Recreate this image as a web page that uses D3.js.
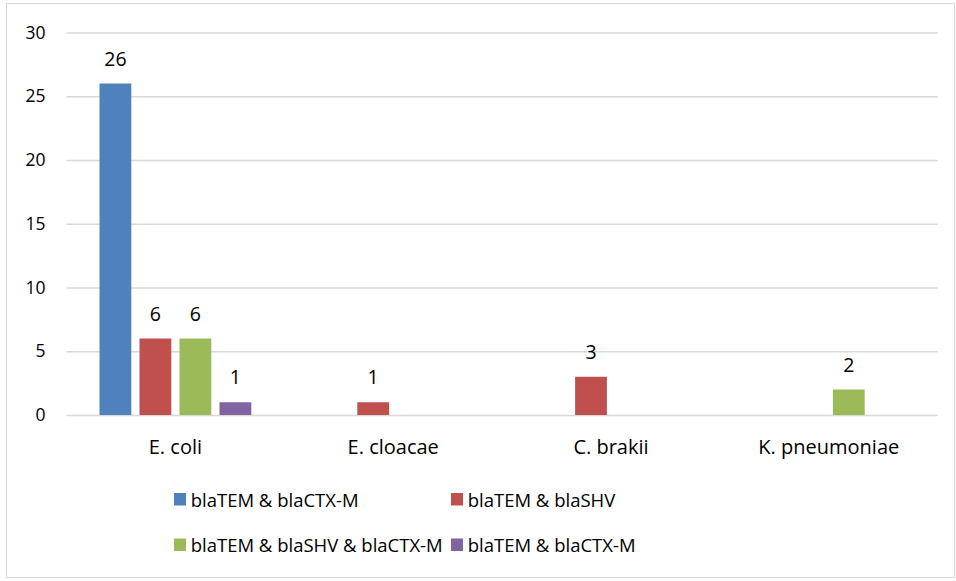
<!DOCTYPE html>
<html>
<head>
<meta charset="utf-8">
<script src="https://cdn.jsdelivr.net/npm/d3@7"></script>
<style>
  html, body { margin: 0; padding: 0; background: #fff; }
  svg { display: block; font-family: "Open Sans", Lato, "Liberation Sans", sans-serif; }
</style>
</head>
<body>
<svg id="chart" width="956" height="581"></svg>
<script>
// Organisms and gene-combination series
const categories = ["E. coli", "E. cloacae", "C. brakii", "K. pneumoniae"];
const seriesNames = ["blaTEM & blaCTX-M", "blaTEM & blaSHV", "blaTEM & blaSHV & blaCTX-M", "blaTEM & blaCTX-M"];
const seriesColors = ["#4f81bd", "#c0504d", "#9bbb59", "#8064a2"];
const series0 = [26, 0, 0, 0];
const series1 = [6, 1, 3, 0];
const series2 = [6, 0, 0, 2];
const series3 = [1, 0, 0, 0];
const seriesValues = [series0, series1, series2, series3];
const yTicks = [0, 5, 10, 15, 20, 25, 30];

const FONT = '"Open Sans", Lato, sans-serif';
const svg = d3.select("#chart");
const W = 956, H = 581;

// outer frame
svg.append("rect")
  .attr("x", 6.5).attr("y", 3.5)
  .attr("width", W - 8).attr("height", H - 7)
  .attr("fill", "#fff").attr("stroke", "#d9d9d9").attr("stroke-width", 1);

const plot = { left: 66.5, right: 937.7, top: 32.5, bottom: 415 };

const y = d3.scaleLinear().domain([0, 30]).range([plot.bottom, plot.top]);
const x0 = d3.scaleBand().domain(d3.range(categories.length))
  .range([plot.left, plot.right]).paddingInner(0).paddingOuter(0);
const groupInset = 33;
const x1 = d3.scaleBand().domain(d3.range(seriesNames.length))
  .range([groupInset, x0.bandwidth() - groupInset]).paddingInner(0.205).paddingOuter(0);

// horizontal gridlines with value ticks
const yAxis = d3.axisLeft(y).tickValues(yTicks).tickSize(-(plot.right - plot.left)).tickPadding(20);
const gy = svg.append("g").attr("transform", `translate(${plot.left},0)`).call(yAxis);
gy.select(".domain").remove();
gy.selectAll(".tick line").attr("stroke", "#d9d9d9").attr("stroke-width", 1.3);
gy.selectAll(".tick text")
  .attr("fill", "#000").attr("font-size", 17.5)
  .attr("font-family", FONT)
  .attr("x", -21);

// bars (zero values are not drawn)
const rows = [];
categories.forEach((c, ci) => {
  seriesValues.forEach((vals, si) => {
    if (vals[ci] > 0) rows.push({ ci, si, v: vals[ci] });
  });
});

const bars = svg.append("g");
bars.selectAll("rect").data(rows).join("rect")
  .attr("x", d => x0(d.ci) + x1(d.si))
  .attr("width", x1.bandwidth())
  .attr("y", d => y(d.v))
  .attr("height", d => y(0) - y(d.v))
  .attr("fill", d => seriesColors[d.si]);

// value labels
bars.selectAll("text").data(rows).join("text")
  .attr("x", d => x0(d.ci) + x1(d.si) + x1.bandwidth() / 2)
  .attr("y", d => y(d.v) - 18)
  .attr("text-anchor", "middle")
  .attr("font-size", 19.5)
  .attr("font-family", FONT)
  .attr("fill", "#000")
  .text(d => d.v);

// category axis labels
const xAxis = d3.axisBottom(x0).tickSize(0).tickPadding(0).tickFormat(i => categories[i]);
const gx = svg.append("g").attr("transform", `translate(0,${plot.bottom})`).call(xAxis);
gx.select(".domain").remove();
gx.selectAll(".tick text")
  .attr("dy", null)
  .attr("y", 38.5)
  .attr("fill", "#000")
  .attr("font-size", 20)
  .attr("font-family", FONT);

// legend, two rows of two entries
const legendPos = [
  { x: 174, y: 493 }, { x: 451, y: 493 },
  { x: 174, y: 538.5 }, { x: 451, y: 538.5 }
];
const legend = svg.append("g");
const items = legend.selectAll("g").data(seriesNames).join("g")
  .attr("transform", (d, i) => `translate(${legendPos[i].x},${legendPos[i].y})`);
items.append("rect")
  .attr("width", 12).attr("height", 12.5)
  .attr("fill", (d, i) => seriesColors[i]);
items.append("text")
  .attr("x", 16.7).attr("y", 13.5)
  .attr("font-size", 18.5)
  .attr("font-family", FONT)
  .attr("fill", "#000")
  .text(d => d);
</script>
</body>
</html>
